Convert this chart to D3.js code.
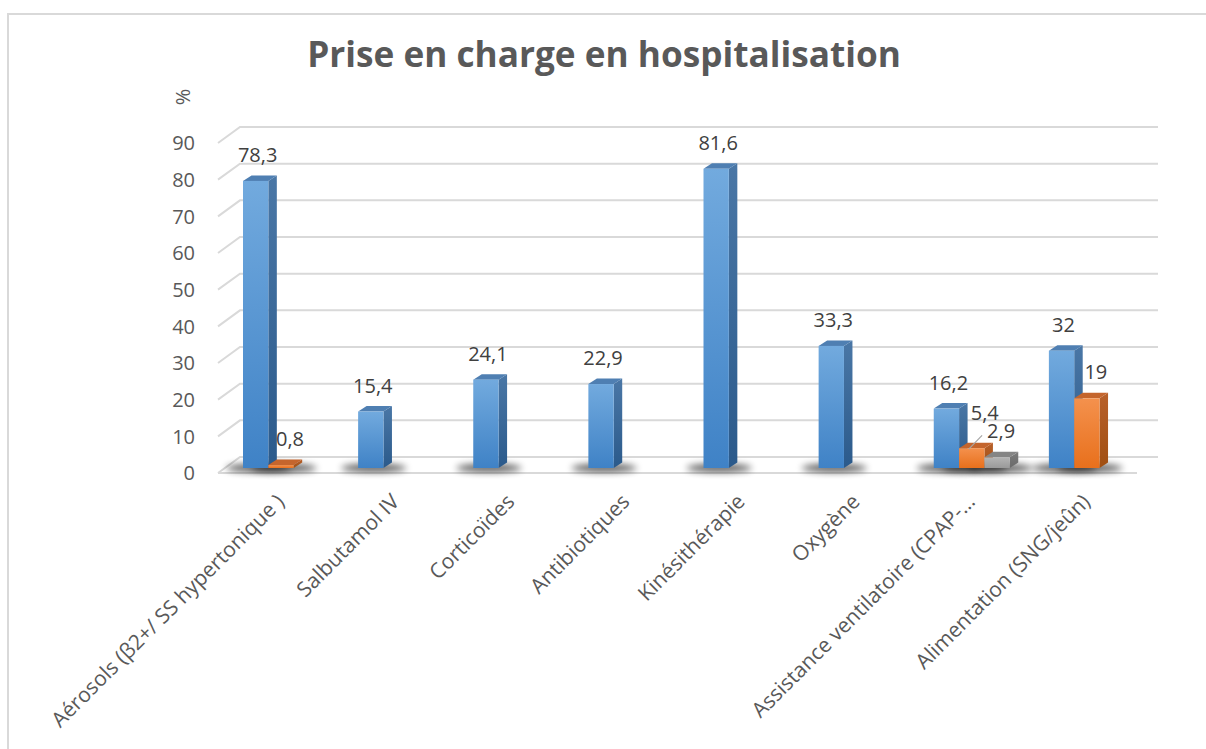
<!DOCTYPE html>
<html>
<head>
<meta charset="utf-8">
<script src="https://cdn.jsdelivr.net/npm/d3@7"></script>
<style>
  body { margin: 0; background: #fff; }
  svg { display: block; font-family: "Open Sans", sans-serif; }
</style>
</head>
<body>
<div id="chart"></div>
<script>
// Données
const categories = [
    'Aérosols (β2+/ SS hypertonique )',
    'Salbutamol IV',
    'Corticoïdes',
    'Antibiotiques',
    'Kinésithérapie',
    'Oxygène',
    'Assistance ventilatoire (CPAP-…',
    'Alimentation (SNG/jeûn)'
];
const seriesNames = ['Série 1', 'Série 2', 'Série 3'];
const serie1 = [78.3, 15.4, 24.1, 22.9, 81.6, 33.3, 16.2, 32];
const serie2 = [0.8, null, null, null, null, null, 5.4, 19];
const serie3 = [null, null, null, null, null, null, 2.9, null];
const yTicks = [0, 10, 20, 30, 40, 50, 60, 70, 80, 90];

const width = 1206, height = 749;

const svg = d3.select('#chart')
    .append('svg')
    .attr('width', width)
    .attr('height', height);

// couleurs des faces (avant / côté / dessus)
const palette = {
    'Série 1': { top: '#72aade', bottom: '#3f82c6', side: ['#4a77a6', '#2b5a8b'], lid: '#4f7fb2' },
    'Série 2': { top: '#f4914d', bottom: '#e8701c', side: ['#b8602a', '#a04f12'], lid: '#c4652d' },
    'Série 3': { top: '#b4b4b4', bottom: '#9a9a9a', side: ['#7c7c7c', '#6a6a6a'], lid: '#858585' }
};

const defs = svg.append('defs');
seriesNames.forEach((s, i) => {
    const g1 = defs.append('linearGradient').attr('id', 'front' + i)
        .attr('x1', 0).attr('y1', 0).attr('x2', 0).attr('y2', 1);
    g1.append('stop').attr('offset', '0%').attr('stop-color', palette[s].top);
    g1.append('stop').attr('offset', '100%').attr('stop-color', palette[s].bottom);
    const g2 = defs.append('linearGradient').attr('id', 'side' + i)
        .attr('x1', 0).attr('y1', 0).attr('x2', 0).attr('y2', 1);
    g2.append('stop').attr('offset', '0%').attr('stop-color', palette[s].side[0]);
    g2.append('stop').attr('offset', '100%').attr('stop-color', palette[s].side[1]);
});
defs.append('filter').attr('id', 'blur')
    .attr('x', '-50%').attr('y', '-200%').attr('width', '200%').attr('height', '500%')
    .append('feGaussianBlur').attr('stdDeviation', 3.5);

// cadre
svg.append('rect')
    .attr('x', 8).attr('y', 14)
    .attr('width', 1220).attr('height', 760)
    .attr('fill', 'none')
    .attr('stroke', '#d9d9d9')
    .attr('stroke-width', 2);

// Titre
svg.append('text')
    .attr('x', 604)
    .attr('y', 67)
    .attr('text-anchor', 'middle')
    .style('font-size', '35.2px')
    .style('font-weight', 'bold')
    .attr('fill', '#595959')
    .text('Prise en charge en hospitalisation');

// échelles
const depthX = 22, depthY = -16;         // profondeur du mur
const y = d3.scaleLinear().domain([0, 90]).range([473, 143]);
const x = d3.scaleBand().domain(categories).range([239, 1160]);
const xs = d3.scaleBand().domain(seriesNames).range([4, 80]);
const bw = xs.bandwidth();
const barShift = -5;                     // barres au milieu de la profondeur
const sideX = 8.5, sideY = -5.5;

// quadrillage (mur du fond)
const frontLeft = 218, backRight = 1158, floorRight = 1137;
svg.append('g').selectAll('path')
    .data(yTicks)
    .enter()
    .append('path')
    .attr('d', v => `M${frontLeft},${y(v)} L${frontLeft + depthX},${y(v) + depthY} L${backRight},${y(v) + depthY}`)
    .attr('fill', 'none')
    .attr('stroke', '#d9d9d9')
    .attr('stroke-width', 2);

// bord avant du sol
svg.append('line')
    .attr('x1', frontLeft).attr('x2', floorRight)
    .attr('y1', y(0)).attr('y2', y(0))
    .attr('stroke', '#d9d9d9')
    .attr('stroke-width', 2);

// graduations
svg.append('g').selectAll('text')
    .data(yTicks)
    .enter()
    .append('text')
    .attr('x', 195)
    .attr('y', v => y(v))
    .attr('dy', '0.36em')
    .attr('text-anchor', 'end')
    .style('font-size', '20px')
    .attr('fill', '#595959')
    .text(v => v);

// titre de l'axe
svg.append('text')
    .attr('transform', 'translate(183,97) rotate(-90)')
    .attr('text-anchor', 'middle')
    .attr('dy', '0.36em')
    .style('font-size', '20px')
    .attr('fill', '#595959')
    .text('%');

// points à dessiner
const allSeries = [serie1, serie2, serie3];
const points = [];
categories.forEach((c, ci) => {
    allSeries.forEach((vals, si) => {
        if (vals[ci] != null) points.push({ cat: c, serie: seriesNames[si], si, value: vals[ci] });
    });
});

const bx = d => x(d.cat) + xs(d.serie);
const base = y(0) + barShift;
const topY = d => y(d.value) + barShift;

// ombres
svg.append('g').selectAll('ellipse')
    .data(points)
    .enter()
    .append('ellipse')
    .attr('cx', d => bx(d) + bw / 2 + 3)
    .attr('cy', base)
    .attr('rx', bw / 2 + 20)
    .attr('ry', 4)
    .attr('fill', '#000')
    .attr('opacity', 0.65)
    .attr('filter', 'url(#blur)');

// barres 3D
const bars = svg.append('g').selectAll('.bar')
    .data(points)
    .enter()
    .append('g')
    .attr('class', 'bar');

bars.append('path') // côté
    .attr('d', d => {
        const x0 = bx(d) + bw, t = topY(d);
        return `M${x0},${t} L${x0 + sideX},${t + sideY} L${x0 + sideX},${base + sideY} L${x0},${base} Z`;
    })
    .attr('fill', d => `url(#side${d.si})`);

bars.append('path') // dessus
    .attr('d', d => {
        const x0 = bx(d), t = topY(d);
        return `M${x0},${t} L${x0 + sideX},${t + sideY} L${x0 + bw + sideX},${t + sideY} L${x0 + bw},${t} Z`;
    })
    .attr('fill', d => palette[d.serie].lid);

bars.append('rect') // face avant
    .attr('x', d => bx(d))
    .attr('y', d => topY(d))
    .attr('width', bw)
    .attr('height', d => Math.max(0.5, base - topY(d)))
    .attr('fill', d => `url(#front${d.si})`);

// étiquettes de données
const labelDx = [2, 9, 4];
const moved = { '5.4': { dx: 4, dy: -9 } };
const labelX = d => bx(d) + bw / 2 + labelDx[d.si] + (moved[d.value] ? moved[d.value].dx : 0);
const labelY = d => topY(d) - 19 + (moved[d.value] ? moved[d.value].dy : 0);

// ligne de rappel pour 2,9
const p54 = points.find(d => d.value === 5.4);
const p29 = points.find(d => d.value === 2.9);
svg.append('line')
    .attr('x1', bx(p54) + bw / 2 - 3)
    .attr('y1', topY(p54) + 1)
    .attr('x2', labelX(p29) - 19)
    .attr('y2', labelY(p29) - 3)
    .attr('stroke', '#a6a6a6')
    .attr('stroke-width', 1.2);

svg.append('g').selectAll('text')
    .data(points)
    .enter()
    .append('text')
    .attr('x', labelX)
    .attr('y', labelY)
    .attr('text-anchor', 'middle')
    .style('font-size', '20px')
    .attr('fill', '#404040')
    .text(d => String(d.value).replace('.', ','));

// étiquettes des catégories
svg.append('g').selectAll('text')
    .data(categories)
    .enter()
    .append('text')
    .attr('transform', c => `translate(${x(c) + x.bandwidth() / 2 - 11},${503}) rotate(-45)`)
    .attr('text-anchor', 'end')
    .style('font-size', '21px')
    .attr('fill', '#595959')
    .text(c => c);
</script>
</body>
</html>
